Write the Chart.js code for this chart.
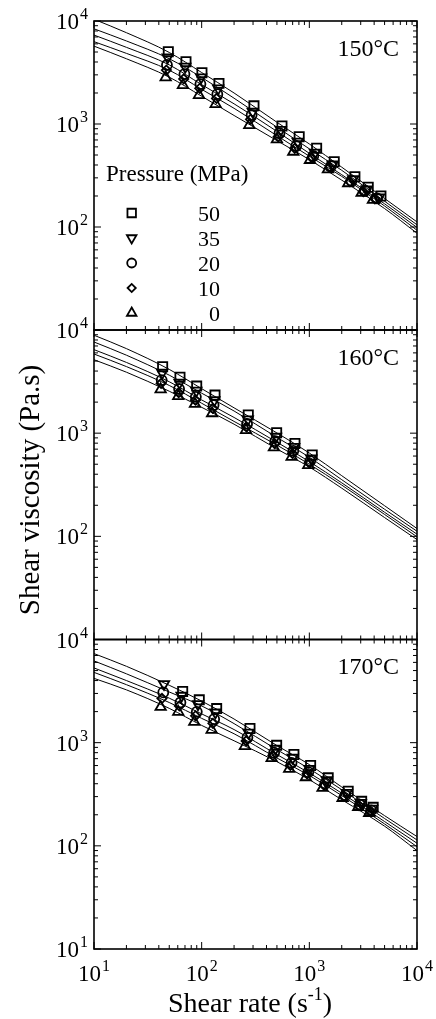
<!DOCTYPE html>
<html lang="en">

<head>
    <meta charset="UTF-8">
    <title>Shear viscosity vs shear rate</title>
    <script src="https://cdn.jsdelivr.net/npm/chart.js"></script>
    <style>
        html, body { margin: 0; padding: 0; background: #fff; }
        .page { position: relative; width: 436px; height: 1019px; overflow: hidden; }
        .page canvas { position: absolute; left: 0; top: 0; }
    </style>
</head>

<body>
    <div class="page">
        <canvas id="chart150" width="436" height="1019"></canvas>
        <canvas id="chart160" width="436" height="1019"></canvas>
        <canvas id="chart170" width="436" height="1019"></canvas>
    </div>
    <script>
        // Labels
        const pressures = ['50', '35', '20', '10', '0'];
        const temperatures = ['150°C', '160°C', '170°C'];
        const decadeTicks = [10, 100, 1000, 10000];

        // 150 °C measured points (shear rate s-1 / viscosity Pa.s)
        const rate150_50 = [49.0, 71.5, 100.6, 144.8, 306, 557, 805, 1169, 1703, 2650, 3524, 4624];
        const visc150_50 = [5040, 4030, 3150, 2480, 1500, 957, 754, 581, 430, 308, 243, 200];
        const rate150_35 = [48.3, 70.4, 99.0, 142.3, 298, 542, 780, 1128, 1647, 2556, 3402, 4430];
        const visc150_35 = [4440, 3600, 2840, 2220, 1320, 876, 673, 527, 406, 292, 232, 194];
        const rate150_20 = [47.6, 69.2, 97.4, 139.8, 291, 528, 756, 1088, 1592, 2466, 3285, 4245];
        const visc150_20 = [3740, 3050, 2440, 1950, 1220, 813, 611, 489, 391, 280, 225, 190];
        const rate150_10 = [47.0, 68.1, 95.9, 137.3, 284, 514, 732, 1050, 1540, 2380, 3171, 4065];
        const visc150_10 = [3340, 2740, 2220, 1770, 1110, 754, 581, 471, 380, 275, 220, 187];
        const rate150_0 = [46.3, 67.0, 94.4, 134.9, 277, 500, 709, 1013, 1489, 2296, 3062, 3896];
        const visc150_0 = [2840, 2390, 1910, 1560, 977, 710, 538, 447, 363, 266, 215, 183];

        // 160 °C
        const rate160_50 = [43.4, 62.9, 89.9, 133, 271, 497, 735, 1064];
        const visc160_50 = [4410, 3480, 2860, 2340, 1500, 1010, 796, 614];
        const rate160_35 = [43.0, 62.3, 89.1, 131, 268, 490, 722, 1042];
        const visc160_35 = [3850, 3080, 2580, 2090, 1360, 923, 738, 569];
        const rate160_20 = [42.5, 61.7, 88.3, 129, 264, 483, 710, 1019];
        const visc160_20 = [3270, 2680, 2250, 1870, 1230, 837, 675, 536];
        const rate160_10 = [42.0, 61.2, 87.5, 127, 261, 476, 697, 998];
        const visc160_10 = [3040, 2470, 2090, 1740, 1150, 793, 636, 516];
        const rate160_0 = [41.6, 60.6, 86.7, 125, 258, 469, 685, 977];
        const visc160_0 = [2660, 2290, 1920, 1560, 1070, 727, 590, 491];

        // 170 °C
        const rate170_50 = [66.6, 95, 137.8, 281, 497, 719, 1028, 1497, 2296, 3062, 3917];
        const visc170_50 = [3140, 2600, 2140, 1370, 942, 769, 601, 456, 338, 270, 236];
        const rate170_35 = [44.7, 65.1, 92.5, 134.1, 273, 484, 701, 1002, 1452, 2228, 3006, 3834];
        const visc170_35 = [3700, 2850, 2360, 1960, 1250, 873, 714, 558, 432, 326, 261, 229];
        const rate170_20 = [44.0, 63.5, 90.1, 130.6, 266, 471, 684, 978, 1409, 2163, 2952, 3752];
        const visc170_20 = [3070, 2450, 1990, 1690, 1120, 799, 638, 518, 402, 309, 251, 221];
        const rate170_10 = [42.8, 62.1, 87.7, 127.1, 259, 459, 666, 953, 1367, 2099, 2898, 3674];
        const visc170_10 = [2680, 2270, 1820, 1540, 1040, 752, 601, 499, 387, 302, 245, 216];
        const rate170_0 = [41.6, 60.6, 85.4, 123.8, 252, 447, 650, 929, 1327, 2037, 2844, 3597];
        const visc170_0 = [2220, 1990, 1590, 1330, 927, 708, 558, 462, 364, 291, 238, 208];

        // Fitted curves at these shear rates
        const fitRates = [10, 20, 50, 100, 200, 500, 1000, 2000, 5000, 10000];
        const fit150_50 = [10400, 7700, 4950, 3160, 2000, 1040, 640, 381, 189, 112];
        const fit150_35 = [8400, 6400, 4300, 2830, 1780, 932, 574, 355, 178, 105];
        const fit150_20 = [7300, 5550, 3750, 2410, 1570, 848, 519, 322, 168, 99];
        const fit150_10 = [6300, 4850, 3330, 2170, 1420, 770, 487, 310, 160, 93];
        const fit150_0 = [5700, 4300, 2850, 1860, 1210, 690, 451, 285, 151, 87];

        const fit160_50 = [8900, 6600, 4150, 2700, 1760, 1005, 642, 387, 198, 119];
        const fit160_35 = [7650, 5700, 3650, 2440, 1640, 910, 585, 354, 183, 112];
        const fit160_20 = [6450, 4850, 3150, 2100, 1420, 817, 530, 330, 171, 105];
        const fit160_10 = [5850, 4420, 2900, 1950, 1300, 766, 500, 314, 163, 99];
        const fit160_0 = [5150, 3900, 2550, 1780, 1222, 703, 470, 293, 152, 93];

        const fit170_50 = [7300, 5500, 3600, 2530, 1695, 938, 613, 372, 196, 123];
        const fit170_35 = [6200, 4650, 3100, 2270, 1530, 855, 558, 350, 184, 114];
        const fit170_20 = [5300, 4000, 2700, 1900, 1340, 767, 508, 324, 172, 106];
        const fit170_10 = [4800, 3650, 2450, 1720, 1220, 710, 481, 307, 163, 98];
        const fit170_0 = [4200, 3250, 2150, 1470, 1043, 654, 438, 280, 155, 90];

        const FONT = '"Liberation Serif", "DejaVu Serif", serif';

        // marker for each pressure: 50 square, 35 down triangle, 20 circle, 10 diamond, 0 triangle
        const markers = [
            { pointStyle: 'rect', radius: 6.5, rotation: 0 },
            { pointStyle: 'triangle', radius: 6, rotation: 180 },
            { pointStyle: 'circle', radius: 5, rotation: 0 },
            { pointStyle: 'rectRot', radius: 4.6, rotation: 0 },
            { pointStyle: 'triangle', radius: 6, rotation: 0 }
        ];
        const markerLine = 1.8;

        const panels = [
            {
                id: 'chart150', top: 21, bottom: 330, label: temperatures[0],
                rates: [rate150_50, rate150_35, rate150_20, rate150_10, rate150_0],
                visc: [visc150_50, visc150_35, visc150_20, visc150_10, visc150_0],
                fits: [fit150_50, fit150_35, fit150_20, fit150_10, fit150_0],
                yLabels: [10000, 1000, 100], legend: true
            },
            {
                id: 'chart160', top: 330, bottom: 639.5, label: temperatures[1],
                rates: [rate160_50, rate160_35, rate160_20, rate160_10, rate160_0],
                visc: [visc160_50, visc160_35, visc160_20, visc160_10, visc160_0],
                fits: [fit160_50, fit160_35, fit160_20, fit160_10, fit160_0],
                yLabels: [10000, 1000, 100]
            },
            {
                id: 'chart170', top: 639.5, bottom: 949, label: temperatures[2],
                rates: [rate170_50, rate170_35, rate170_20, rate170_10, rate170_0],
                visc: [visc170_50, visc170_35, visc170_20, visc170_10, visc170_0],
                fits: [fit170_50, fit170_35, fit170_20, fit170_10, fit170_0],
                yLabels: [10000, 1000, 100, 10], xAxis: true, titles: true
            }
        ];

        // "10" with a raised exponent
        function drawPower(ctx, v, x, y, align) {
            const exp = String(Math.round(Math.log10(v)));
            ctx.font = '23px ' + FONT;
            const wb = ctx.measureText('10').width;
            ctx.font = '16px ' + FONT;
            const we = ctx.measureText(exp).width;
            const total = wb + we + 1;
            let sx = align === 'right' ? x - total : x - total / 2;
            ctx.textAlign = 'left';
            ctx.textBaseline = 'alphabetic';
            ctx.font = '23px ' + FONT;
            ctx.fillText('10', sx, y);
            ctx.font = '16px ' + FONT;
            ctx.fillText(exp, sx + wb + 1, y - 10);
        }

        const framePlugin = {
            id: 'frame',
            afterDraw(chart, args, opts) {
                const { ctx, chartArea: a, scales: { x, y } } = chart;
                const p = opts.panel;
                ctx.save();
                ctx.strokeStyle = '#000';
                ctx.fillStyle = '#000';

                // inward ticks on all four sides
                ctx.lineWidth = 1;
                ctx.beginPath();
                decadeTicks.forEach((d, i) => {
                    const mults = i < decadeTicks.length - 1 ? [1, 2, 3, 4, 5, 6, 7, 8, 9] : [1];
                    mults.forEach(m => {
                        const v = d * m;
                        const len = m === 1 ? 7 : 4;
                        const px = x.getPixelForValue(v);
                        ctx.moveTo(px, a.bottom); ctx.lineTo(px, a.bottom - len);
                        ctx.moveTo(px, a.top); ctx.lineTo(px, a.top + len);
                        const py = y.getPixelForValue(v);
                        ctx.moveTo(a.left, py); ctx.lineTo(a.left + len, py);
                        ctx.moveTo(a.right, py); ctx.lineTo(a.right - len, py);
                    });
                });
                ctx.stroke();

                ctx.lineWidth = 1.6;
                ctx.strokeRect(a.left, a.top, a.right - a.left, a.bottom - a.top);

                // tick labels
                p.yLabels.forEach(v => drawPower(ctx, v, 88, y.getPixelForValue(v) + 8, 'right'));
                if (p.xAxis) {
                    decadeTicks.forEach(v => drawPower(ctx, v, x.getPixelForValue(v), 981, 'center'));
                }

                // temperature
                ctx.font = '24px ' + FONT;
                ctx.textAlign = 'right';
                ctx.fillText(p.label, 399, a.top + 34.5);

                // legend
                if (p.legend) {
                    ctx.font = '23px ' + FONT;
                    ctx.textAlign = 'left';
                    ctx.fillText('Pressure (MPa)', 106, 181);
                    ctx.textAlign = 'right';
                    pressures.forEach((pr, i) => {
                        const ly = 213 + i * 25;
                        ctx.font = '22px ' + FONT;
                        ctx.fillText(pr, 220, ly + 8);
                        ctx.save();
                        ctx.lineWidth = markerLine;
                        ctx.fillStyle = 'rgba(0,0,0,0)';
                        Chart.helpers.drawPoint(ctx, {
                            pointStyle: markers[i].pointStyle,
                            radius: markers[i].radius - 0.5,
                            rotation: markers[i].rotation,
                            borderWidth: markerLine
                        }, 131.7, ly);
                        ctx.restore();
                    });
                }

                // axis titles
                if (p.titles) {
                    ctx.font = '28px ' + FONT;
                    ctx.textAlign = 'left';
                    const t1 = 'Shear rate (s', t2 = '-1', t3 = ')';
                    const w1 = ctx.measureText(t1).width;
                    const w3 = ctx.measureText(t3).width;
                    ctx.font = '18px ' + FONT;
                    const w2 = ctx.measureText(t2).width;
                    let sx = 250 - (w1 + w2 + w3) / 2;
                    ctx.font = '28px ' + FONT;
                    ctx.fillText(t1, sx, 1012);
                    ctx.font = '18px ' + FONT;
                    ctx.fillText(t2, sx + w1, 1000);
                    ctx.font = '28px ' + FONT;
                    ctx.fillText(t3, sx + w1 + w2, 1012);

                    ctx.save();
                    ctx.translate(39, 490);
                    ctx.rotate(-Math.PI / 2);
                    ctx.textAlign = 'center';
                    ctx.font = '29px ' + FONT;
                    ctx.fillText('Shear viscosity (Pa.s)', 0, 0);
                    ctx.restore();
                }
                ctx.restore();
            }
        };

        panels.forEach(p => {
            const datasets = [];
            pressures.forEach((pr, i) => {
                datasets.push({
                    label: pr + ' MPa fit',
                    data: fitRates.map((r, k) => ({ x: r, y: p.fits[i][k] })),
                    showLine: true,
                    borderColor: '#000',
                    borderWidth: 1,
                    pointRadius: 0,
                    cubicInterpolationMode: 'monotone',
                    fill: false
                });
            });
            pressures.forEach((pr, i) => {
                datasets.push({
                    label: pr + ' MPa',
                    data: p.rates[i].map((r, k) => ({ x: r, y: p.visc[i][k] })),
                    showLine: false,
                    pointStyle: markers[i].pointStyle,
                    pointRadius: markers[i].radius,
                    pointRotation: markers[i].rotation,
                    pointBorderWidth: markerLine,
                    pointBorderColor: '#000',
                    pointBackgroundColor: 'rgba(0,0,0,0)'
                });
            });

            new Chart(document.getElementById(p.id), {
                type: 'scatter',
                data: { datasets },
                options: {
                    responsive: false,
                    animation: false,
                    layout: { padding: { left: 94, right: 19, top: p.top, bottom: 1019 - p.bottom } },
                    scales: {
                        x: { type: 'logarithmic', min: 10, max: 10000, display: false },
                        y: { type: 'logarithmic', min: 10, max: 10000, display: false }
                    },
                    plugins: {
                        legend: { display: false },
                        tooltip: { enabled: false },
                        frame: { panel: p }
                    }
                },
                plugins: [framePlugin]
            });
        });
    </script>
</body>

</html>
